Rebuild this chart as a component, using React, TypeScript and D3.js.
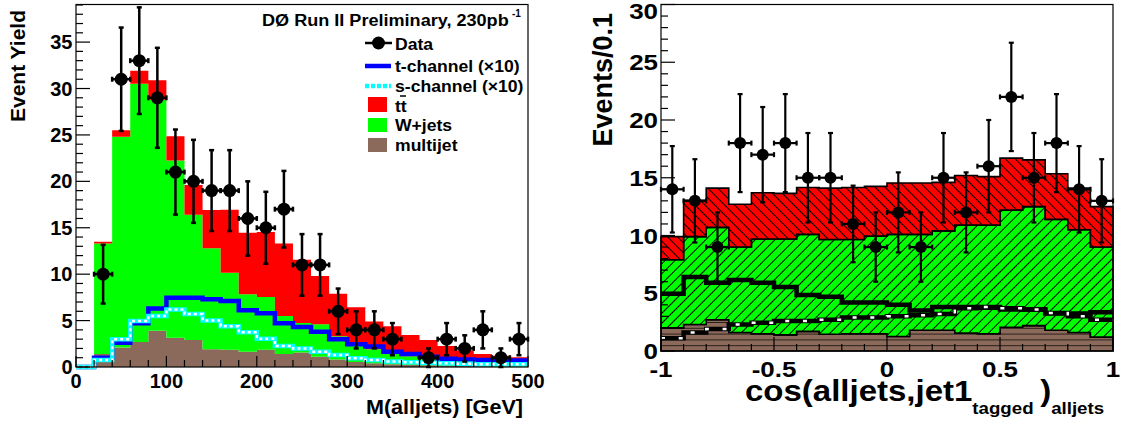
import React from 'react'
import * as d3 from 'd3'

// M(alljets), 20 GeV bins 0..500
const massEdges = d3.range(0, 520, 20)
const massData = [0, 10, 31, 33, 29, 21, 20, 19, 19, 16, 15, 17, 11, 11, 6, 4, 4, 3, 0, 1, 3, 2, 4, 1, 3]
const massMultijet = [0, 1.4, 2.1, 2.7, 3.9, 3.15, 2.9, 1.9, 1.85, 1.65, 1.85, 1.4, 1.55, 1.1, 0.8, 0.55, 0.4, 0.3, 0.25, 0.2, 0.15, 0.1, 0.1, 0.05, 0.05]
const massWjets = [0, 11.9, 22.7, 27.8, 24.9, 19.1, 13.5, 10.9, 8.3, 6.2, 5.7, 4.1, 3.2, 3.5, 2.5, 2.1, 1.5, 1.2, 0.9, 0.8, 0.7, 0.6, 0.5, 0.45, 0.4]
const massTtbar = [0, 0.2, 0.7, 1.4, 2.1, 2.6, 3.2, 4.1, 6.8, 6.6, 7.0, 7.8, 6.8, 5.2, 4.6, 3.8, 3.0, 2.9, 2.3, 1.9, 1.4, 1.1, 0.8, 0.7, 0.6]
const massTchan = [0, 1.0, 2.6, 4.7, 6.3, 7.45, 7.45, 7.3, 7.1, 6.1, 5.8, 4.7, 4.3, 3.8, 3.0, 2.45, 2.2, 1.65, 1.4, 1.1, 0.9, 0.8, 0.75, 0.7, 0.7]
const massSchan = [0, 0.75, 3.0, 4.95, 5.5, 6.2, 5.7, 5.0, 4.4, 3.75, 3.05, 2.25, 2.0, 1.65, 1.3, 0.95, 0.75, 0.6, 0.5, 0.45, 0.4, 0.35, 0.3, 0.3, 0.3]
const massXLabels = [0, 100, 200, 300, 400, 500]
const massYLabels = [0, 5, 10, 15, 20, 25, 30, 35]

// cos(alljets, jet1tagged), 0.1 bins -1..1
const cosEdges = d3.range(21).map(i => -1 + i / 10)
const cosData = [14, 13, 9, 18, 17, 18, 15, 15, 11, 9, 12, 9, 15, 12, 16, 22, 15, 18, 14, 13]
const cosMultijet = [2.0, 2.3, 2.7, 1.6, 1.5, 1.4, 1.7, 1.45, 1.5, 1.5, 1.25, 1.8, 1.8, 1.55, 1.5, 2.05, 2.2, 1.8, 1.6, 1.2]
const cosWjets = [5.9, 7.6, 8.0, 7.4, 8.2, 8.3, 8.4, 8.2, 8.15, 8.45, 8.85, 8.3, 8.6, 9.35, 9.4, 10.15, 10.3, 9.6, 8.9, 7.8]
const cosTtbar = [2.0, 3.15, 3.4, 3.7, 4.0, 3.95, 4.05, 4.45, 4.5, 4.3, 4.45, 4.45, 4.2, 4.3, 4.2, 4.5, 4.05, 3.95, 3.6, 3.5]
const cosTchan = [4.95, 6.4, 5.9, 6.15, 5.9, 5.55, 4.85, 4.7, 4.2, 4.2, 4.0, 3.5, 3.8, 3.8, 3.75, 3.6, 3.6, 3.25, 3.25, 3.35]
const cosSchan = [1.1, 1.6, 1.9, 2.3, 2.45, 2.6, 2.6, 2.7, 2.9, 2.9, 3.0, 3.1, 3.2, 3.7, 3.8, 3.7, 3.6, 3.3, 3.0, 2.7]
const cosXLabels = ['-1', '-0.5', '0', '0.5', '1']
const cosYLabels = [0, 5, 10, 15, 20, 25, 30]

const FONT = "'Liberation Sans', Arial, Helvetica, sans-serif"
const RED = '#ff0000'
const GREEN = '#00ff00'
const BROWN = '#8c6a5b'
const KEYS = ['multijet', 'wjets', 'ttbar']

type Pt = { x: number; y0: number; y1: number }

function bandPoints(edges: number[], ser: any[]): Pt[] {
  const pts = ser.map((d, i) => ({ x: edges[i], y0: d[0], y1: d[1] }))
  return [...pts, { ...pts[pts.length - 1], x: edges[pts.length] }]
}

function stepPoints(edges: number[], vals: number[]): [number, number][] {
  const pts = vals.map((v, i) => [edges[i], v] as [number, number])
  return [...pts, [edges[vals.length], vals[vals.length - 1]]]
}

function Txt({ x, y, size, sx = 1, anchor = 'start', children }: any) {
  return (
    <text transform={`translate(${x},${y}) scale(${sx},1)`} fontSize={size} textAnchor={anchor}
      fontFamily={FONT} fontWeight="bold" fill="#000">{children}</text>
  )
}

function DataPoints({ edges, values, x, y, r, sw }: any) {
  return (
    <g stroke="#000" strokeWidth={sw}>
      {values.map((v: number, i: number) => {
        if (v <= 0) return null
        const cx = x((edges[i] + edges[i + 1]) / 2)
        const cy = y(v)
        const e = Math.sqrt(v)
        const xl = x(edges[i]), xr = x(edges[i + 1])
        const yt = y(v + e), yb = y(v - e)
        return (
          <g key={i}>
            <line x1={cx} x2={cx} y1={yt} y2={yb} />
            <line x1={xl} x2={xr} y1={cy} y2={cy} />
            <line x1={cx - 2.5} x2={cx + 2.5} y1={yt} y2={yt} />
            <line x1={cx - 2.5} x2={cx + 2.5} y1={yb} y2={yb} />
            <line x1={xl} x2={xl} y1={cy - 2.5} y2={cy + 2.5} />
            <line x1={xr} x2={xr} y1={cy - 2.5} y2={cy + 2.5} />
            <circle cx={cx} cy={cy} r={r} fill="#000" stroke="none" />
          </g>
        )
      })}
    </g>
  )
}

function MassPanel() {
  const x = d3.scaleLinear().domain([0, 500]).range([76, 528])
  const y = d3.scaleLinear().domain([0, 39.05]).range([367, 4.5])
  const rows = massMultijet.map((m, i) => ({ multijet: m, wjets: massWjets[i], ttbar: massTtbar[i] }))
  const series = d3.stack<any>().keys(KEYS)(rows)
  const area = d3.area<Pt>().x(d => x(d.x)).y0(d => y(d.y0)).y1(d => y(d.y1)).curve(d3.curveStepAfter)
  const line = d3.line<[number, number]>().x(d => x(d[0])).y(d => y(d[1])).curve(d3.curveStepAfter)
  const fills: any = { multijet: BROWN, wjets: GREEN, ttbar: RED }
  const tPath = line(stepPoints(massEdges, massTchan)) as string
  const sPath = line(stepPoints(massEdges, massSchan)) as string

  return (
    <g>
      {series.map(s => (
        <path key={s.key} d={area(bandPoints(massEdges, s as any)) as string} fill={fills[s.key]} />
      ))}
      <path d={tPath} fill="none" stroke="#0000ff" strokeWidth={4.5} />
      <path d={sPath} fill="none" stroke="#00ffff" strokeWidth={4.5} />
      <path d={sPath} fill="none" stroke="#fff" strokeWidth={2.5} strokeDasharray="3 3" />
      <DataPoints edges={massEdges} values={massData} x={x} y={y} r={6.5} sw={2.5} />

      {/* axes */}
      <rect x={76} y={4.5} width={452} height={362.5} fill="none" stroke="#000" strokeWidth={1.2} />
      <g stroke="#000" strokeWidth={1.2}>
        {d3.range(0, 40).map(v => (
          <line key={'y' + v} x1={76} x2={76 + (v % 5 === 0 ? 14 : 7)} y1={y(v)} y2={y(v)} />
        ))}
        {d3.range(0, 501, 20).map(v => (
          <line key={'x' + v} x1={x(v)} x2={x(v)} y1={367} y2={367 - (v % 100 === 0 ? 11 : 7)} />
        ))}
      </g>
      {massYLabels.map(v => (
        <Txt key={'yl' + v} x={72.5} y={y(v) + 7} size={20} anchor="end">{v}</Txt>
      ))}
      {massXLabels.map(v => (
        <Txt key={'xl' + v} x={x(v)} y={388} size={20} anchor="middle">{v}</Txt>
      ))}
      <text transform="translate(25,10) rotate(-90)" fontSize={21} textAnchor="end"
        fontFamily={FONT} fontWeight="bold">Event Yield</text>
      <Txt x={523} y={414} size={20} sx={1.08} anchor="end">M(alljets) [GeV]</Txt>

      {/* title and legend */}
      <Txt x={262} y={26} size={16} sx={1.13}>DØ Run II Preliminary, 230pb</Txt>
      <Txt x={512} y={17} size={10}>-1</Txt>
      <line x1={365} x2={392} y1={43} y2={43} stroke="#000" strokeWidth={2.5} />
      <circle cx={378.5} cy={43} r={6.5} fill="#000" />
      <Txt x={395} y={50} size={16} sx={1.1}>Data</Txt>
      <line x1={365} x2={391} y1={66} y2={66} stroke="#0000ff" strokeWidth={4.5} />
      <Txt x={395} y={72} size={16} sx={1.1}>t-channel (×10)</Txt>
      <line x1={365} x2={391} y1={86} y2={86} stroke="#00ffff" strokeWidth={4.5} strokeDasharray="4 2" />
      <Txt x={395} y={92} size={16} sx={1.1}>s-channel (×10)</Txt>
      <rect x={368} y={97} width={19} height={15} fill={RED} />
      <Txt x={395} y={112} size={16} sx={1.1}>tt</Txt>
      <line x1={400} x2={406} y1={96} y2={96} stroke="#000" strokeWidth={1.5} />
      <rect x={368} y={118} width={19} height={14} fill={GREEN} />
      <Txt x={395} y={131} size={16} sx={1.1}>W+jets</Txt>
      <rect x={368} y={138} width={19} height={14} fill={BROWN} />
      <Txt x={395} y={151} size={16} sx={1.1}>multijet</Txt>
    </g>
  )
}

function CosPanel() {
  const x = d3.scaleLinear().domain([-1, 1]).range([661, 1113])
  const y = d3.scaleLinear().domain([0, 30]).range([351, 4.5])
  const rows = cosMultijet.map((m, i) => ({ multijet: m, wjets: cosWjets[i], ttbar: cosTtbar[i] }))
  const series = d3.stack<any>().keys(KEYS)(rows)
  const area = d3.area<Pt>().x(d => x(d.x)).y0(d => y(d.y0)).y1(d => y(d.y1)).curve(d3.curveStepAfter)
  const line = d3.line<[number, number]>().x(d => x(d[0])).y(d => y(d[1])).curve(d3.curveStepAfter)
  const fills: any = { multijet: 'url(#brownHatch)', wjets: 'url(#greenHatch)', ttbar: 'url(#redHatch)' }
  const tPath = line(stepPoints(cosEdges, cosTchan)) as string
  const sPath = line(stepPoints(cosEdges, cosSchan)) as string

  return (
    <g>
      <defs>
        <pattern id="redHatch" patternUnits="userSpaceOnUse" width={7} height={7} patternTransform="rotate(-45)">
          <rect width={7} height={7} fill={RED} />
          <line x1={3.5} x2={3.5} y1={0} y2={7} stroke="#000" strokeWidth={1} />
        </pattern>
        <pattern id="greenHatch" patternUnits="userSpaceOnUse" width={7} height={7} patternTransform="rotate(45)">
          <rect width={7} height={7} fill={GREEN} />
          <line x1={3.5} x2={3.5} y1={0} y2={7} stroke="#000" strokeWidth={1} />
        </pattern>
        <pattern id="brownHatch" patternUnits="userSpaceOnUse" x={0} y={351} width={10} height={5.8}>
          <rect width={10} height={5.8} fill={BROWN} />
          <line x1={0} x2={10} y1={0} y2={0} stroke="#000" strokeWidth={1.4} />
        </pattern>
      </defs>
      {series.map(s => (
        <path key={s.key} d={area(bandPoints(cosEdges, s as any)) as string} fill={fills[s.key]}
          stroke="#000" strokeWidth={1.6} />
      ))}
      <path d={tPath} fill="none" stroke="#000" strokeWidth={4.5} />
      <path d={sPath} fill="none" stroke="#000" strokeWidth={4.5} />
      <path d={sPath} fill="none" stroke="#fff" strokeWidth={2.5} strokeDasharray="4 13.7" />
      <DataPoints edges={cosEdges} values={cosData} x={x} y={y} r={6} sw={2.2} />

      <rect x={661} y={4.5} width={452} height={346.5} fill="none" stroke="#000" strokeWidth={1.2} />
      <g stroke="#000" strokeWidth={1.2}>
        {d3.range(0, 31).map(v => (
          <line key={'y' + v} x1={661} x2={661 + (v % 5 === 0 ? 14 : 7)} y1={y(v)} y2={y(v)} />
        ))}
        {cosEdges.map((v, i) => (
          <line key={'x' + i} x1={x(v)} x2={x(v)} y1={351} y2={351 - (i % 5 === 0 ? 14 : 7)} />
        ))}
      </g>
      {cosYLabels.map(v => (
        <Txt key={'yl' + v} x={658} y={Math.max(y(v) + 8, 18.5)} size={22} sx={1.18} anchor="end">{v}</Txt>
      ))}
      {cosXLabels.map(v => (
        <Txt key={'xl' + v} x={x(+v)} y={377} size={22} sx={1.18} anchor="middle">{v}</Txt>
      ))}
      <text transform="translate(612,13) rotate(-90)" fontSize={27} textAnchor="end"
        fontFamily={FONT} fontWeight="bold">Events/0.1</text>
      <text transform="translate(745,401) scale(1.1,1)" fontFamily={FONT} fontWeight="bold">
        <tspan fontSize={30}>cos(alljets,jet1</tspan>
        <tspan fontSize={17} dy={13}>tagged</tspan>
        <tspan fontSize={30} dy={-13} dx={6}>)</tspan>
        <tspan fontSize={17} dy={13}>alljets</tspan>
      </text>
    </g>
  )
}

export default function App() {
  return (
    <svg width={1124} height={425} style={{ position: 'absolute', left: 0, top: 0, background: '#fff' }}>
      <rect width={1124} height={425} fill="#fff" />
      <MassPanel />
      <CosPanel />
    </svg>
  )
}
